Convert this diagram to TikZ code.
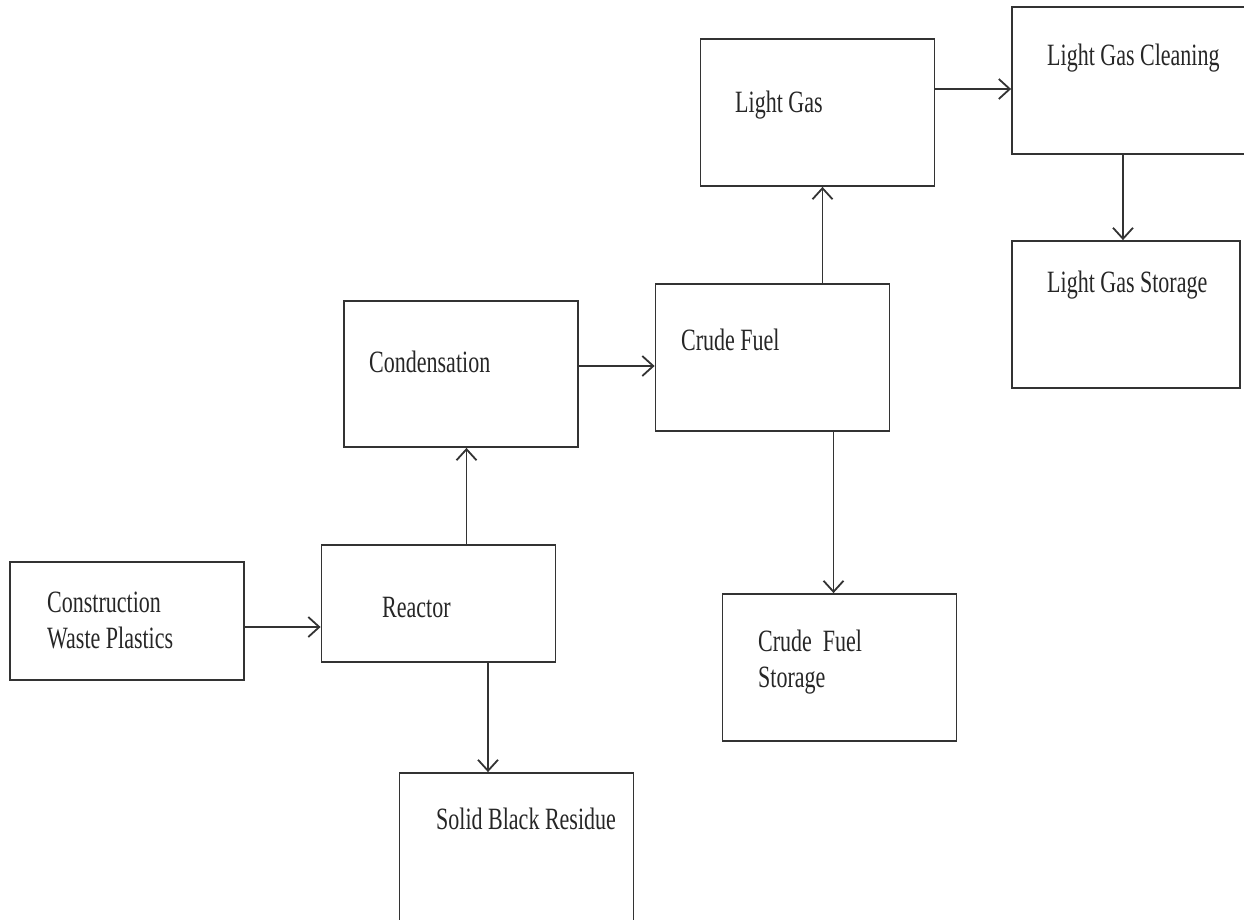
\documentclass[tikz,border=0pt]{standalone}
\usepackage{fontspec}
\setmainfont{Liberation Serif}[FakeStretch=0.71]
\usetikzlibrary{arrows.meta}

\tikzset{
	stage/.style={draw=black!80, line width=1.8pt, inner sep=0pt, minimum width=234pt, minimum height=147pt},
	lbl/.style={anchor=base west, inner sep=0pt, align=left, text=black!85, font=\fontsize{31}{36.5}\selectfont},
	flow/.style={draw=black!80, line width=1.8pt, -{Straight Barb[length=11pt,width=20pt]}}
}

\begin{document}
\begin{tikzpicture}[x=1pt,y=-1pt]
	\useasboundingbox (0,0) rectangle (1244,919);
	% boxes
	\node[stage, minimum height=118pt] (cwp) at (127,621) {};
	\node[stage, minimum height=117pt] (reac) at (438.5,603.5) {};
	\node[stage, minimum height=162pt] (sbr) at (516.5,854) {};
	\node[stage, minimum height=146pt] (cond) at (461,374) {};
	\node[stage] (cf) at (772.5,357.5) {};
	\node[stage] (cfs) at (839.5,667.5) {};
	\node[stage] (lg) at (817.5,112.5) {};
	\node[stage, minimum width=248pt] (lgc) at (1136,80.5) {};
	\node[stage, minimum width=228pt] (lgs) at (1126,314.5) {};
	% labels (multi-line ones sit on the baseline of their last line)
	\node[lbl] (cwp-t) at (47,648.5) {Construction\\Waste Plastics};
	\node[lbl] (reac-t) at (382,617) {Reactor};
	\node[lbl] (sbr-t) at (436,829) {Solid Black Residue};
	\node[lbl] (cond-t) at (369,372.5) {Condensation};
	\node[lbl] (cf-t) at (681,350.5) {Crude Fuel};
	\node[lbl] (cfs-t) at (758,687.5) {Crude\hspace{0.35em}Fuel\\Storage};
	\node[lbl] (lg-t) at (735,112) {Light Gas};
	\node[lbl] (lgc-t) at (1047,65) {Light Gas Cleaning};
	\node[lbl] (lgs-t) at (1047,292) {Light Gas Storage};
	% flows
	\draw[flow] ([yshift=-6pt]cwp.east) -- ([yshift=-6pt]cwp.east -| reac.west);
	\draw[flow] ([xshift=28pt]reac.north) -- ([xshift=28pt]reac.north |- cond.south);
	\draw[flow] ([xshift=49.5pt]reac.south) -- ([xshift=49.5pt]reac.south |- sbr.north);
	\draw[flow] ([yshift=8pt]cond.east) -- ([yshift=8pt]cond.east -| cf.west);
	\draw[flow] ([xshift=50pt]cf.north) -- ([xshift=50pt]cf.north |- lg.south);
	\draw[flow] ([xshift=61pt]cf.south) -- ([xshift=61pt]cf.south |- cfs.north);
	\draw[flow] ([yshift=23.5pt]lg.east) -- ([yshift=23.5pt]lg.east -| lgc.west);
	\draw[flow] ([xshift=-3pt]lgs.north |- lgc.south) -- ([xshift=-3pt]lgs.north);
\end{tikzpicture}
\end{document}
